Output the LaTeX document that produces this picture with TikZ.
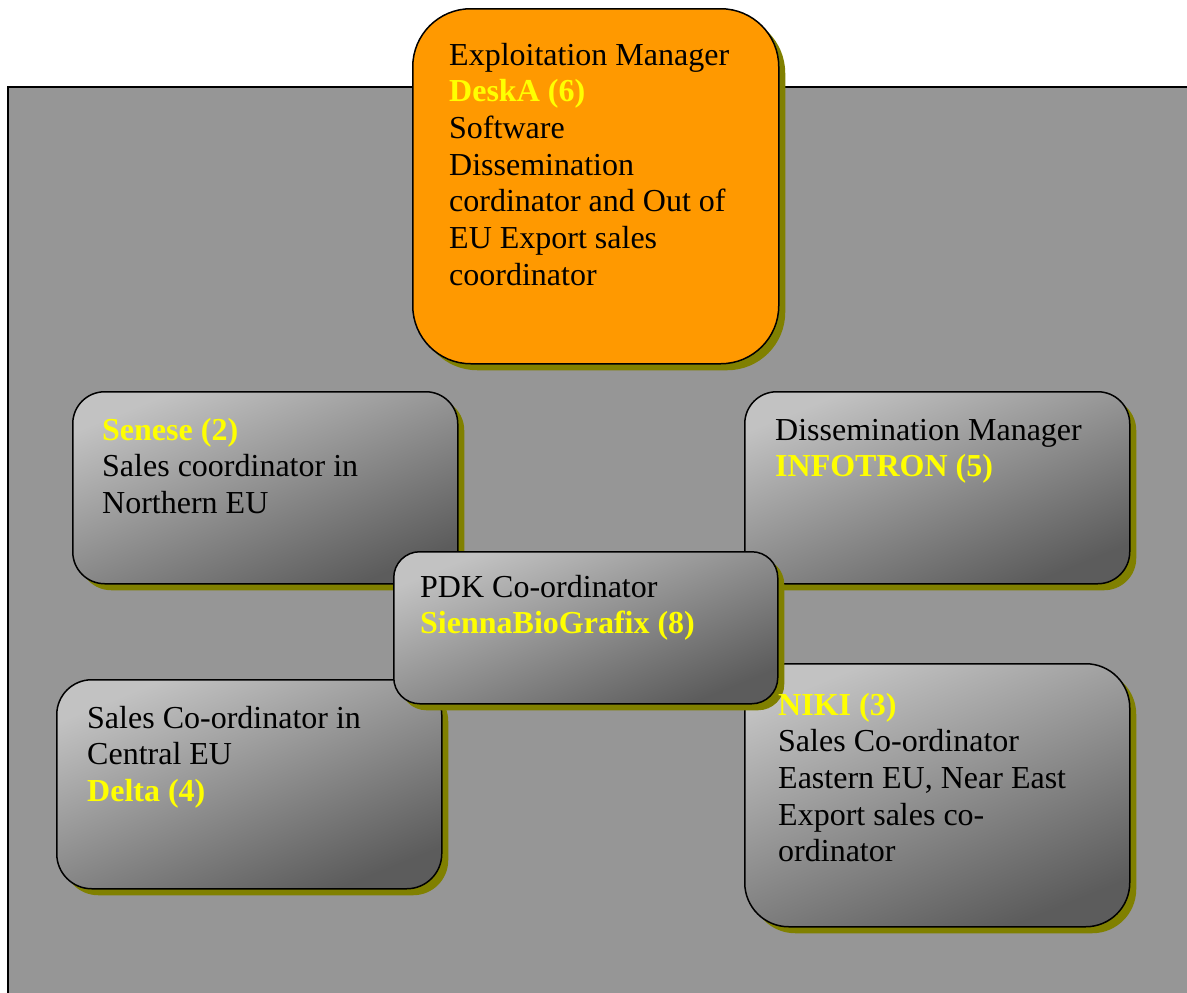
\documentclass[tikz,border=0pt]{standalone}
\usepackage{fontspec}
\setmainfont{Liberation Serif}
\usetikzlibrary{shadows}
\definecolor{bggray}{RGB}{150,150,150}
\definecolor{orangebox}{RGB}{255,153,0}
\definecolor{shadowolive}{RGB}{128,128,0}
\definecolor{lightg}{RGB}{194,194,194}
\definecolor{darkg}{RGB}{92,92,92}
\definecolor{ylw}{RGB}{255,255,0}
\newcommand{\hlt}[1]{\textbf{\textcolor{ylw}{#1}}}
\tikzset{
  box/.style={draw=black, line width=1.5pt, inner sep=0pt, anchor=north west,
    drop shadow={shadow xshift=6.5pt, shadow yshift=-6.5pt, fill=shadowolive, opacity=1}},
  graybox/.style={box, top color=lightg, bottom color=darkg, shading angle=22},
  orbox/.style={box, fill=orangebox},
  txt/.style={anchor=base west, align=left, inner sep=0pt, font=\fontsize{32}{36.7}\selectfont}
}
\begin{document}
\begin{tikzpicture}[x=1pt, y=-1pt]
\useasboundingbox (0,0) rectangle (1187,993);
\clip (0,0) rectangle (1187,993);
\draw[fill=bggray, line width=1.5pt] (8,87) rectangle (1210,1020);

\node[orbox, rounded corners=58pt, minimum width=366pt, minimum height=355pt] (exp) at (412,8) {};
\node[txt] (expt) at (449,285.2) {Exploitation Manager\\ \hlt{DeskA (6)}\\ Software\\ Dissemination\\ cordinator and Out of\\ EU Export sales\\ coordinator};

\node[graybox, rounded corners=32pt, minimum width=385pt, minimum height=192pt] (sen) at (72,391) {};
\node[txt] (sent) at (102,513.4) {\hlt{Senese (2)}\\ Sales coordinator in\\ Northern EU};

\node[graybox, rounded corners=32pt, minimum width=385pt, minimum height=192pt] (dis) at (744,391) {};
\node[txt] (dist) at (775,476.7) {Dissemination Manager\\ \hlt{INFOTRON (5)}};

\node[graybox, rounded corners=35pt, minimum width=385pt, minimum height=209pt] (del) at (56,679) {};
\node[txt] (delt) at (87,801.4) {Sales Co-ordinator in\\ Central EU\\ \hlt{Delta (4)}};

\node[graybox, rounded corners=44pt, minimum width=385pt, minimum height=263pt] (niki) at (744,663) {};

\node[graybox, rounded corners=26pt, minimum width=384pt, minimum height=152pt] (pdk) at (393,551) {};
\node[txt] (pdkt) at (420,633.7) {PDK Co-ordinator\\ \hlt{SiennaBioGrafix (8)}};

\node[txt] (nikit) at (778,861.8) {\hlt{NIKI (3)}\\ Sales Co-ordinator\\ Eastern EU, Near East\\ Export sales co-\\ ordinator};
\end{tikzpicture}
\end{document}
